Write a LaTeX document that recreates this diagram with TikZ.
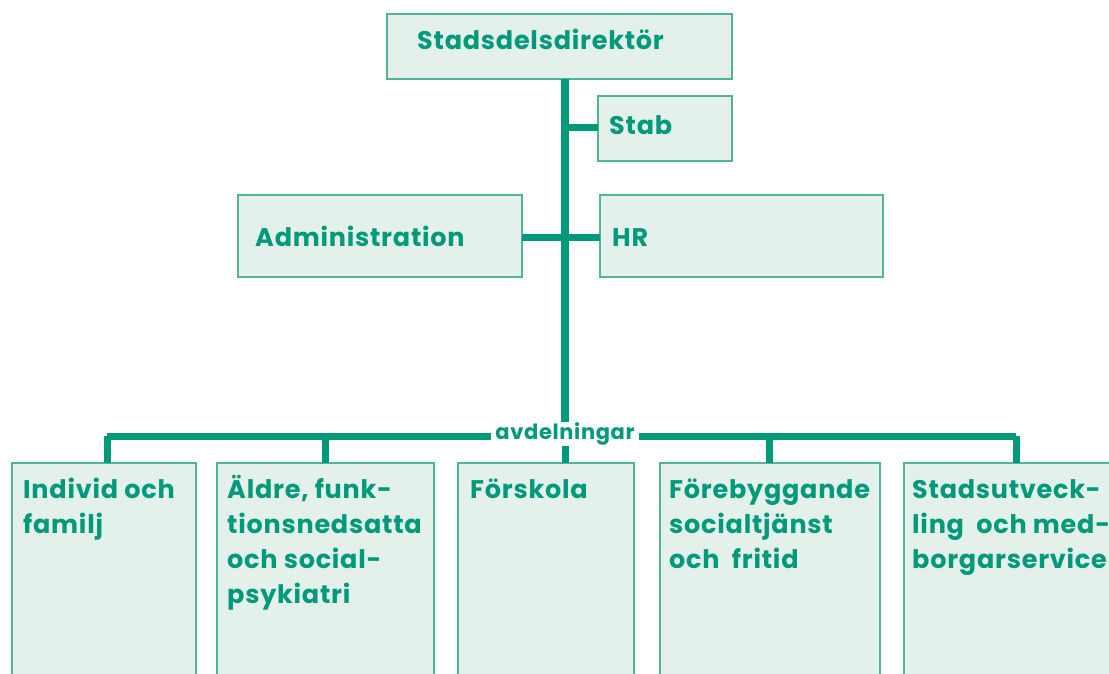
\documentclass[tikz,border=0pt]{standalone}
\usepackage{fontspec}
\setmainfont{Poppins}[LetterSpace=3]
\definecolor{dgreen}{HTML}{009A7B}
\definecolor{boxfill}{HTML}{E4F1EB}
\definecolor{boxline}{HTML}{4FB49B}
\newcommand{\fl}{\rule{0pt}{26pt}}
\begin{document}
\begin{tikzpicture}[x=1pt,y=-1pt,
  box/.style={draw=boxline, fill=boxfill, line width=1.3pt, inner sep=0pt, outer sep=0pt, anchor=north west},
  lbl/.style={text=dgreen, font=\bfseries\fontsize{25.5}{35}\selectfont, anchor=north west, align=left, inner sep=0pt},
  conn/.style={draw=dgreen, line width=7pt},
  trunk/.style={draw=dgreen, line width=8pt}]
\clip (0,0) rectangle (1109,673);
\fill[white] (0,0) rectangle (1109,673);
% boxes
\node[box, minimum width=345pt, minimum height=65pt] (dir) at (387,14) {};
\node[box, minimum width=134pt, minimum height=65pt] (stab) at (598,96) {};
\node[box, minimum width=284pt, minimum height=82pt] (adm) at (238,195) {};
\node[box, minimum width=283pt, minimum height=82pt] (hr) at (600,195) {};
\node[box, minimum width=184pt, minimum height=230pt] (b1) at (12,463) {};
\node[box, minimum width=217pt, minimum height=230pt] (b2) at (217,463) {};
\node[box, minimum width=176pt, minimum height=230pt] (b3) at (458,463) {};
\node[box, minimum width=220pt, minimum height=230pt] (b4) at (660,463) {};
\node[box, minimum width=230pt, minimum height=230pt] (b5) at (904,463) {};
% coordinates
\coordinate (tbot) at (565,440);
\coordinate (hl) at (107,436);
\coordinate (hrr) at (1016,436);
\coordinate (stabj) at (565,127);
\coordinate (admj) at (565,237);
\coordinate (d2) at (325,436);
\coordinate (d4) at (769,436);
% connectors
\draw[trunk] (dir.south -| tbot) -- (tbot);
\draw[conn] (stabj) -- (stab.west |- stabj);
\draw[conn] (adm.east |- admj) -- (hr.west |- admj);
\draw[conn] (hl) -- (hrr);
\draw[conn] (hl) -- (b1.north -| hl);
\draw[conn] (d2) -- (b2.north -| d2);
\draw[conn] (d4) -- (b4.north -| d4);
\draw[conn] (hrr) -- (b5.north -| hrr);
\draw[conn] (tbot) -- (b3.north -| tbot);
% label over the bar
\node[fill=white, text=dgreen, font=\bfseries\fontsize{21}{24}\selectfont, inner xsep=4pt, inner ysep=1pt] (avd) at (565,434) {avdelningar};
% texts
\node[lbl] (tdir) at (417,49-26) {\fl Stadsdelsdirektör};
\node[lbl] (tstab) at (609,134-26) {\fl Stab};
\node[lbl] (tadm) at (255,246-26) {\fl Administration};
\node[lbl] (thr) at (612,246-26) {\fl HR};
\node[lbl] (t1) at (23,498-26) {\fl Individ och\\familj};
\node[lbl] (t2) at (227,498-26) {\fl Äldre, funk-\\tionsnedsatta\\och social-\\psykiatri};
\node[lbl] (t3) at (470,498-26) {\fl Förskola};
\node[lbl] (t4) at (669,498-26) {\fl Förebyggande\\socialtjänst\\och\ \ fritid};
\node[lbl] (t5) at (912,498-26) {\fl Stadsutveck-\\ling\ \ och med-\\borgarservice};
\end{tikzpicture}
\end{document}
